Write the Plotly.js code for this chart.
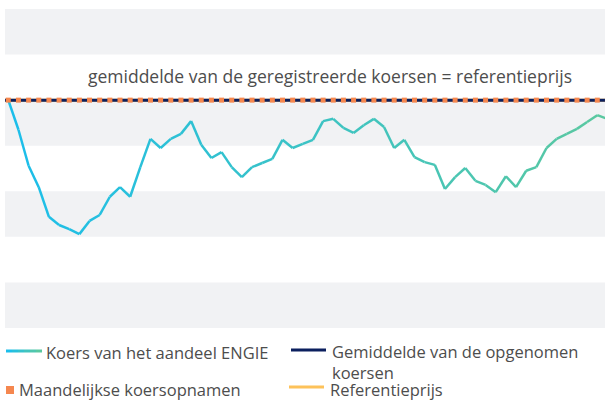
<!DOCTYPE html>
<html><head><meta charset="utf-8">
<script src="https://cdn.plot.ly/plotly-3.0.1.min.js"></script>
<style>html,body{margin:0;padding:0;background:#fff}</style>
</head><body><div id="chart" style="width:605px;height:401px"></div>
<script>
// ---- data ----
const maanden = [0,1,2,3,4,5,6,7,8,9,10,11,12,13,14,15,16,17,18,19,20,21,22,23,24,25,26,27,28,29,30,31,32,33,34,35,36,37,38,39,40,41,42,43,44,45,46,47,48,49,50,51,52,53,54,55,56,57,58,59];
const koers = [5.00,4.35,3.56,3.09,2.44,2.26,2.17,2.06,2.35,2.48,2.88,3.09,2.88,3.53,4.15,3.95,4.15,4.26,4.54,4.02,3.73,3.86,3.53,3.31,3.53,3.62,3.71,4.13,3.95,4.04,4.13,4.54,4.59,4.39,4.28,4.45,4.59,4.41,3.95,4.13,3.75,3.64,3.58,3.05,3.31,3.51,3.23,3.14,2.98,3.33,3.09,3.45,3.53,3.95,4.15,4.26,4.37,4.52,4.67,4.59];
const opnamen = [5,5,5,5,5,5,5,5,5,5,5,5,5,5,5,5,5,5,5,5,5,5,5,5,5,5,5,5,5,5,5,5,5,5,5,5,5,5,5,5,5,5,5,5,5,5,5,5,5,5,5,5,5,5,5,5,5,5,5,5];
const gemiddelde = 5;
const referentieprijs = 5;
const labels = {
  koers: 'Koers van het aandeel ENGIE',
  gem: 'Gemiddelde van de opgenomen<br>koersen',
  opn: 'Maandelijkse koersopnamen',
  ref: 'Referentieprijs',
  note: 'gemiddelde van de geregistreerde koersen = referentieprijs'
};

// ---- layout helpers ----
const W = 605, H = 401, L = 5, R = 0, T = 9, B = 73;
const pw = W - L - R, ph = H - T - B;
const px = x => (x - L) / pw;
const py = y => (H - B - y) / ph;
const xRange = [-0.325, 58.76];
const c0 = [28, 190, 234], c1 = [90, 200, 160];
const mix = t => 'rgb(' + c0.map((v, i) => Math.round(v + (c1[i] - v) * t)).join(',') + ')';

const traces = [];
traces.push({x: xRange, y: [referentieprijs, referentieprijs], mode: 'lines', line: {color: '#fdc25a', width: 3}, hoverinfo: 'skip', showlegend: false});
traces.push({x: xRange, y: [gemiddelde, gemiddelde], mode: 'lines', line: {color: '#0b1f5e', width: 3}, hoverinfo: 'skip', showlegend: false});
const n = koers.length;
for (let i = 0; i < n - 1; i++) {
  traces.push({x: [maanden[i], maanden[i + 1]], y: [koers[i], koers[i + 1]], mode: 'lines',
    line: {color: mix(i / (n - 2)), width: 2.5}, hoverinfo: 'skip', showlegend: false});
}
traces.push({x: maanden, y: opnamen, mode: 'markers', marker: {symbol: 'square', size: 5, color: '#f5874f'}, hoverinfo: 'skip', showlegend: false});

const shapes = [];
[[0,1],[2,3],[4,5],[6,7]].forEach(b => shapes.push({type: 'rect', xref: 'paper', yref: 'y', x0: 0, x1: 1, y0: b[0], y1: b[1], fillcolor: '#f1f2f4', line: {width: 0}, layer: 'below'}));
// legend swatches
const segs = 6;
for (let s = 0; s < segs; s++) {
  const xa = 6 + (36 * s) / segs, xb = 6 + (36 * (s + 1)) / segs;
  shapes.push({type: 'line', xref: 'paper', yref: 'paper', x0: px(xa), x1: px(xb), y0: py(351), y1: py(351), line: {color: mix(s / (segs - 1)), width: 3}});
}
shapes.push({type: 'line', xref: 'paper', yref: 'paper', x0: px(291), x1: px(326), y0: py(350), y1: py(350), line: {color: '#0b1f5e', width: 3}});
shapes.push({type: 'rect', xref: 'paper', yref: 'paper', x0: px(6), x1: px(14), y0: py(386), y1: py(394), fillcolor: '#f5874f', line: {width: 0}});
shapes.push({type: 'line', xref: 'paper', yref: 'paper', x0: px(289), x1: px(324), y0: py(387), y1: py(387), line: {color: '#fdc25a', width: 3}});

const font = {family: 'Open Sans, sans-serif', size: 16.5, color: '#4d4d4d'};
const ann = (text, x, y, opts) => Object.assign({text: text, xref: 'paper', yref: 'paper', x: px(x), y: py(y), xanchor: 'left', yanchor: 'middle', showarrow: false, font: font, align: 'left', borderpad: 0}, opts || {});
const annotations = [
  ann(labels.note, 330, 76, {xanchor: 'center', font: Object.assign({}, font, {size: 17.5})}),
  ann(labels.koers, 45, 352),
  ann(labels.gem, 331, 339, {yanchor: 'top'}),
  ann(labels.opn, 18, 389.5),
  ann(labels.ref, 329, 389.5)
];

const layout = {
  width: W, height: H, margin: {l: L, r: R, t: T, b: B},
  paper_bgcolor: '#fff', plot_bgcolor: '#fff', showlegend: false,
  xaxis: {range: xRange, visible: false, fixedrange: true},
  yaxis: {range: [0, 7], visible: false, fixedrange: true},
  shapes: shapes, annotations: annotations
};
Plotly.newPlot('chart', traces, layout, {displayModeBar: false, staticPlot: true});
</script></body></html>
